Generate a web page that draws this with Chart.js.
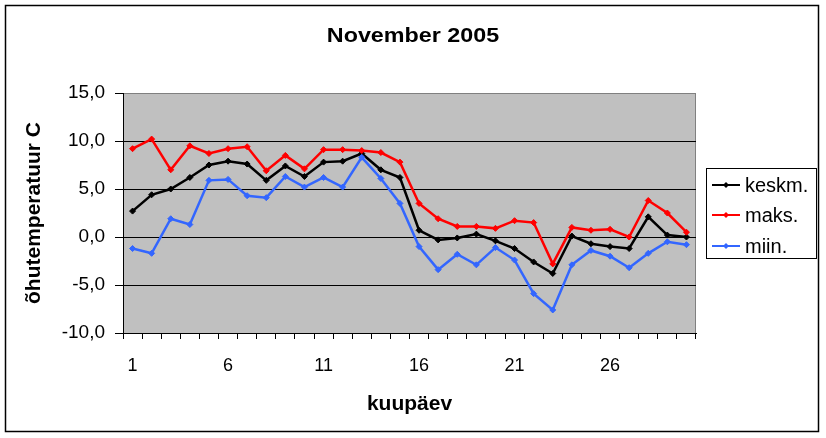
<!DOCTYPE html>
<html>
<head>
<meta charset="utf-8">
<script src="https://cdn.jsdelivr.net/npm/chart.js@4/dist/chart.umd.min.js"></script>
<style>
  html, body { margin: 0; padding: 0; background: #fff; }
  #wrap { width: 826px; height: 438px; }
</style>
</head>
<body>
<div id="wrap"><canvas id="chart" width="826" height="438"></canvas></div>
<script>
// data
const days = [1, 2, 3, 4, 5, 6, 7, 8, 9, 10, 11, 12, 13, 14, 15, 16, 17, 18, 19, 20, 21, 22, 23, 24, 25, 26, 27, 28, 29, 30];
const shownDays = [1, 6, 11, 16, 21, 26];
const keskm = [2.7, 4.4, 5.0, 6.2, 7.5, 7.9, 7.6, 5.9, 7.4, 6.3, 7.8, 7.9, 8.7, 7.0, 6.2, 0.7, -0.3, -0.1, 0.3, -0.4, -1.2, -2.6, -3.8, 0.1, -0.7, -1.0, -1.2, 2.1, 0.2, 0.0];
const maks = [9.2, 10.2, 7.0, 9.5, 8.7, 9.2, 9.4, 6.9, 8.5, 7.1, 9.1, 9.1, 9.0, 8.8, 7.8, 3.5, 1.9, 1.1, 1.1, 0.9, 1.7, 1.5, -2.8, 1.0, 0.7, 0.8, 0.0, 3.8, 2.5, 0.5];
const miin = [-1.2, -1.7, 1.9, 1.3, 5.9, 6.0, 4.3, 4.1, 6.3, 5.2, 6.2, 5.2, 8.3, 6.1, 3.5, -1.0, -3.4, -1.8, -2.9, -1.1, -2.4, -5.9, -7.6, -2.9, -1.4, -2.0, -3.2, -1.7, -0.5, -0.8];
const yTickLabels = ['-10,0', '-5,0', '0,0', '5,0', '10,0', '15,0'];
const seriesNames = ['keskm.', 'maks.', 'miin.'];
const seriesColors = ['#000000', '#ff0000', '#3366ff'];

const FONT = '"Liberation Sans", Arial, sans-serif';

function series(i, values) {
  return {
    label: seriesNames[i],
    data: values,
    borderColor: seriesColors[i],
    backgroundColor: seriesColors[i],
    borderWidth: 2.5,
    pointStyle: 'rectRot',
    pointRadius: 3,
    pointBorderWidth: 1,
    tension: 0,
    order: 2 - i
  };
}

// text a little wider than the font, like the original picture
function wideText(ctx, text, x, y, sx) {
  ctx.save();
  ctx.translate(x, y);
  ctx.scale(sx, 1);
  ctx.fillText(text, 0, 0);
  ctx.restore();
}

// frame, plot background, titles and legend
const decor = {
  id: 'decor',
  beforeDraw(chart) {
    const ctx = chart.ctx;
    const a = chart.chartArea;
    ctx.save();
    ctx.fillStyle = '#fff';
    ctx.fillRect(0, 0, chart.width, chart.height);
    ctx.fillStyle = '#c0c0c0';
    ctx.fillRect(a.left, a.top, a.right - a.left, a.bottom - a.top);
    ctx.strokeStyle = '#808080';
    ctx.lineWidth = 1;
    ctx.beginPath();
    ctx.moveTo(a.right - 0.5, a.top);
    ctx.lineTo(a.right - 0.5, a.bottom);
    ctx.stroke();
    ctx.restore();
  },
  afterDraw(chart) {
    const ctx = chart.ctx;
    const a = chart.chartArea;
    ctx.save();
    // outer frame
    ctx.strokeStyle = '#000';
    ctx.lineWidth = 1.5;
    ctx.strokeRect(5.5, 5.5, 813, 426);

    ctx.fillStyle = '#000';
    ctx.textAlign = 'center';
    ctx.textBaseline = 'middle';
    ctx.font = 'bold 21px ' + FONT;
    wideText(ctx, 'November 2005', 413, 36, 1.11);

    ctx.font = 'bold 21px ' + FONT;
    ctx.fillText('kuupäev', (a.left + a.right) / 2, 404);

    ctx.save();
    ctx.translate(34, (a.top + a.bottom) / 2);
    ctx.rotate(-Math.PI / 2);
    ctx.fillText('õhutemperatuur C', 0, 0);
    ctx.restore();

    // legend
    ctx.fillStyle = '#fff';
    ctx.fillRect(706, 168, 110, 90);
    ctx.strokeStyle = '#000';
    ctx.lineWidth = 1;
    ctx.strokeRect(706.5, 168.5, 110, 90);
    ctx.font = '20px ' + FONT;
    ctx.textAlign = 'left';
    const rows = [185, 215, 246];
    seriesNames.forEach((name, i) => {
      const y = rows[i];
      ctx.strokeStyle = seriesColors[i];
      ctx.fillStyle = seriesColors[i];
      ctx.lineWidth = 2;
      ctx.beginPath();
      ctx.moveTo(712, y);
      ctx.lineTo(740, y);
      ctx.stroke();
      ctx.beginPath();
      ctx.moveTo(726, y - 3);
      ctx.lineTo(729, y);
      ctx.lineTo(726, y + 3);
      ctx.lineTo(723, y);
      ctx.closePath();
      ctx.fill();
      ctx.fillStyle = '#000';
      ctx.fillText(name, 745, y + 1);
    });
    ctx.restore();
  }
};

new Chart(document.getElementById('chart'), {
  type: 'line',
  data: {
    labels: days,
    datasets: [series(0, keskm), series(1, maks), series(2, miin)]
  },
  options: {
    responsive: false,
    animation: false,
    devicePixelRatio: 1,
    layout: { padding: { top: 93, right: 130, bottom: 0, left: 0 } },
    plugins: {
      legend: { display: false },
      title: { display: false },
      tooltip: { enabled: false }
    },
    scales: {
      x: {
        type: 'category',
        offset: true,
        afterFit: s => { s.height = 105; },
        grid: {
          offset: true,
          drawOnChartArea: false,
          drawTicks: true,
          tickLength: 6,
          tickColor: '#000'
        },
        border: { color: '#000', width: 1 },
        ticks: {
          autoSkip: false,
          maxRotation: 0,
          padding: 16,
          color: '#000',
          font: { family: FONT, size: 18 },
          callback: function (v, i) {
            const d = days[i];
            return shownDays.includes(d) ? String(d) : '';
          }
        }
      },
      y: {
        min: -10,
        max: 15,
        afterFit: s => { s.width = 123; },
        grid: {
          color: ctx => (ctx.tick && ctx.tick.value === 15 ? '#808080' : '#000'),
          tickColor: '#000',
          tickLength: 8,
          lineWidth: 1
        },
        border: { color: '#000', width: 1 },
        ticks: {
          stepSize: 5,
          padding: 10,
          color: '#000',
          font: { family: FONT, size: 19 },
          callback: (v, i) => yTickLabels[i]
        }
      }
    }
  },
  plugins: [decor]
});
</script>
</body>
</html>
